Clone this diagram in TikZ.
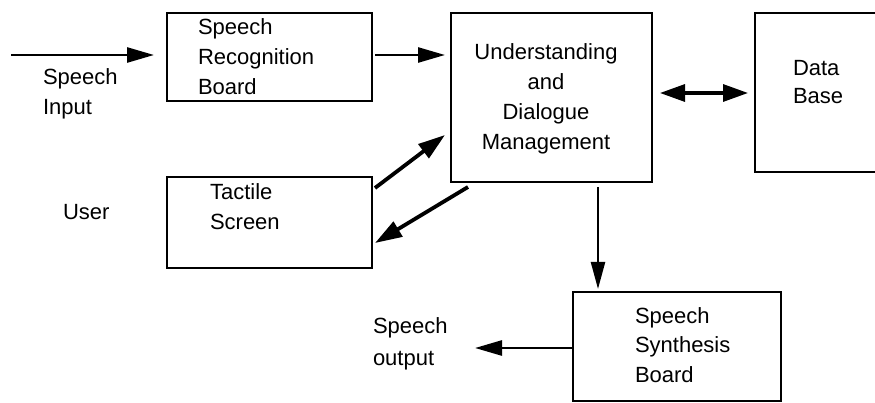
\documentclass[tikz,border=0pt]{standalone}
\usepackage{fontspec}
\setmainfont{Liberation Sans}
\usetikzlibrary{arrows.meta,calc}
\begin{document}
\begin{tikzpicture}[x=1pt,y=-1pt,
  box/.style={draw,line width=2.6pt,rectangle,inner sep=0pt,outer sep=0pt},
  lbl/.style={inner sep=0pt,outer sep=0pt,font=\fontsize{22}{30}\selectfont,align=left,anchor=north west},
  arr/.style={line width=2.6pt,-{Triangle[length=27pt,width=15pt]}},
  darr/.style={line width=3.8pt,-{Triangle[length=27pt,width=17pt]}},
  biarr/.style={line width=3.2pt,{Triangle[length=25pt,width=17pt]}-{Triangle[length=25pt,width=17pt]}},
  varr/.style={line width=2.3pt,-{Triangle[length=27pt,width=14pt]}}]
\useasboundingbox (0,0) rectangle (875,403);
\clip (0,0) rectangle (875,403);

% boxes
\node[box,minimum width=205pt,minimum height=88pt] (sr) at (269.5,57) {};
\node[box,minimum width=201pt,minimum height=169pt] (ud) at (551.5,97.5) {};
\node[box,minimum width=145pt,minimum height=159pt] (db) at (827.5,92.5) {};
\node[box,minimum width=205pt,minimum height=91pt] (tac) at (269.5,222.5) {};
\node[box,minimum width=208pt,minimum height=109pt] (syn) at (677,346.5) {};

% texts
\node[lbl] (tin) at (43,69) {\rule{0pt}{16pt}Speech\\Input};
\node[lbl] (tuser) at (63,204) {\rule{0pt}{16pt}User};
\node[lbl] (tsr) at (198,19) {\rule{0pt}{16pt}Speech\\Recognition\\Board};
\node[lbl,align=center,anchor=north] (tud) at (546,44) {\rule{0pt}{16pt}Understanding\\and\\Dialogue\\Management};
\node[lbl,font=\fontsize{22}{28}\selectfont] (tdb) at (793,60) {\rule{0pt}{16pt}Data\\Base};
\node[lbl] (ttac) at (210,184) {\rule{0pt}{16pt}Tactile\\Screen};
\node[lbl,font=\fontsize{22}{29.5}\selectfont] (tsyn) at (635,307) {\rule{0pt}{16pt}Speech\\Synthesis\\Board};
\node[lbl,font=\fontsize{22}{32}\selectfont] (tout) at (373,317) {\rule{0pt}{16pt}Speech\\output};

% connectors
\coordinate (inStart) at (11,55);
\coordinate (outEnd) at (475,348);
\draw[arr] (inStart) -- ($(sr.north west)+(-13,42)$);
\draw[arr] ($(sr.north east)+(3,42)$) -- ($(ud.north west)+(-6,42)$);
\draw[biarr] ($(ud.east)+(8,-4.5)$) -- ($(db.west)+(-7,0.5)$);
\draw[darr] ($(tac.north east)+(3,11)$) -- ($(ud.south west)+(-6,-47)$);
\draw[darr] ($(ud.south west)+(17,5)$) -- ($(tac.east)+(3,20.5)$);
\draw[varr] ($(ud.south)+(46.5,5)$) -- ($(syn.north)+(-79,-3)$);
\draw[arr] ($(syn.west)+(0,1.5)$) -- (outEnd);
\end{tikzpicture}
\end{document}
